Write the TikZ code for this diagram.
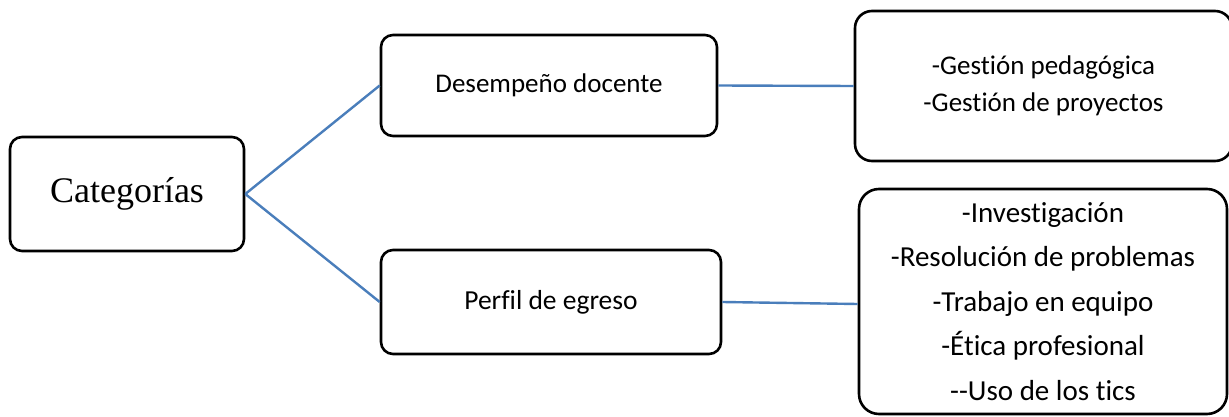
\documentclass[tikz,border=0pt]{standalone}
\usepackage{fontspec}
\setmainfont{Carlito}[Ligatures={NoCommon}]
\newfontfamily\timesf{Liberation Serif}
\definecolor{connblue}{HTML}{4A7EBB}
\begin{document}
\begin{tikzpicture}[x=1pt,y=-1pt,
  box/.style={draw=black, line width=2.6pt, rounded corners=12pt, inner sep=0pt, align=center},
  connector/.style={draw=connblue, line width=2.4pt}]
\useasboundingbox (0,0) rectangle (1229,417);
\node[box, minimum width=234pt, minimum height=114pt, font=\timesf\fontsize{36}{40}\selectfont] (cat) at (127,194) {Categorías};
\node[box, minimum width=336pt, minimum height=101pt, font=\fontsize{27}{32}\selectfont] (des) at (549,85.5) {Desempeño docente};
\node[box, minimum width=340pt, minimum height=104pt, font=\fontsize{27.5}{32}\selectfont] (per) at (551,302) {Perfil de egreso};
\node[box, rounded corners=17pt, minimum width=377pt, minimum height=150pt, font=\fontsize{27}{37}\selectfont] (ges) at (1043.5,86) {-Gestión pedagógica\\-Gestión de proyectos};
\node[box, rounded corners=20pt, minimum width=368pt, minimum height=225pt, font=\fontsize{29}{44.5}\selectfont] (lis) at (1043,301.5) {-Investigación\\-Resolución de problemas\\-Trabajo en equipo\\-Ética profesional\\-{}-Uso de los tics};
\draw[connector] (cat.east) -- (des.west);
\draw[connector] (cat.east) -- (per.west);
\draw[connector] (des.east) -- (ges.west);
\draw[connector] (per.east) -- ([yshift=-2.5pt]lis.west);
\end{tikzpicture}
\end{document}
